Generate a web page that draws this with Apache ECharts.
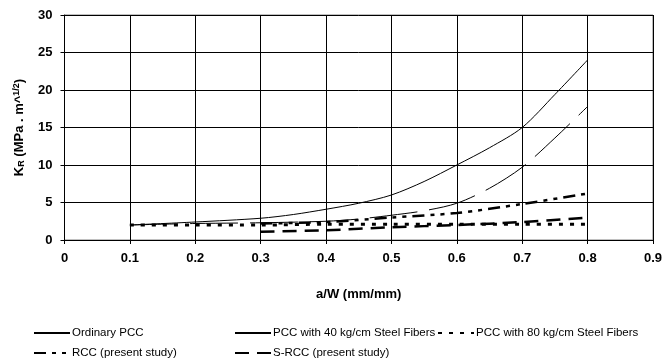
<!DOCTYPE html>
<html>
<head>
<meta charset="utf-8">
<script src="https://cdn.jsdelivr.net/npm/echarts@6/dist/echarts.min.js"></script>
<style>
  html, body { margin: 0; padding: 0; background: #fff; }
  #chart { width: 665px; height: 360px; }
</style>
</head>
<body>
<div id="chart"></div>
<script>
// data
const ordinaryX = [0.1, 0.2, 0.3, 0.35, 0.4, 0.45, 0.5, 0.55, 0.6, 0.65, 0.7, 0.75, 0.8];
const ordinaryY = [2.0, 2.4, 2.9, 3.4, 4.1, 4.9, 6.0, 7.8, 10.0, 12.3, 15.0, 19.4, 24.0];

const fib40X = [0.1, 0.2, 0.3, 0.4, 0.45, 0.5, 0.55, 0.6, 0.65, 0.7, 0.75, 0.8];
const fib40Y = [2.0, 2.2, 2.3, 2.5, 2.8, 3.3, 3.9, 4.9, 6.9, 9.7, 13.6, 17.8];

const fib80X = [0.1, 0.2, 0.3, 0.4, 0.5, 0.6, 0.7, 0.8];
const fib80Y = [2.0, 2.0, 2.0, 2.1, 2.1, 2.1, 2.1, 2.1];

const rccX = [0.3, 0.4, 0.5, 0.6, 0.7, 0.8];
const rccY = [2.2, 2.4, 3.0, 3.6, 4.8, 6.2];

const srccX = [0.3, 0.4, 0.5, 0.6, 0.7, 0.8];
const srccY = [1.1, 1.3, 1.7, 2.0, 2.4, 3.0];

const xTicks = [0, 0.1, 0.2, 0.3, 0.4, 0.5, 0.6, 0.7, 0.8, 0.9];
const yTicks = [0, 5, 10, 15, 20, 25, 30];

const names = [
  "Ordinary PCC",
  "PCC with 40 kg/cm Steel Fibers",
  "PCC with 80 kg/cm Steel Fibers",
  "RCC (present study)",
  "S-RCC (present study)"
];

function pairs(xs, ys) {
  return xs.map((x, i) => [x, ys[i]]);
}

const chart = echarts.init(document.getElementById("chart"));

const font = "Arial, Liberation Sans";
function legendAt(name, left, top) {
  return {
    data: [name],
    left: left,
    top: top,
    itemWidth: 36,
    itemHeight: 8,
    itemGap: 0,
    padding: 0,
    selectedMode: false,
    itemStyle: { opacity: 0 },
    textStyle: { fontFamily: font, fontSize: 11.5, color: "#000", padding: [0, 0, 0, -3] }
  };
}

const option = {
  animation: false,
  backgroundColor: "#fff",
  grid: {
    left: 64.5,
    right: 10,
    top: 15,
    bottom: 120,
    show: true,
    borderColor: "#808080",
    borderWidth: 1
  },
  xAxis: {
    type: "value",
    min: 0,
    max: 0.9,
    interval: 0.1,
    name: "a/W (mm/mm)",
    nameLocation: "middle",
    nameGap: 48,
    nameTextStyle: { fontFamily: font, fontSize: 13, fontWeight: "bold", color: "#000" },
    axisLine: { lineStyle: { color: "#000", width: 1 } },
    axisTick: { show: true, length: 4, lineStyle: { color: "#000" } },
    axisLabel: {
      margin: 12,
      fontFamily: font,
      fontSize: 13,
      fontWeight: "bold",
      color: "#000",
      formatter: v => String(xTicks[Math.round(v * 10)])
    },
    splitLine: { show: true, lineStyle: { color: "#000", width: 1 } }
  },
  yAxis: {
    type: "value",
    min: 0,
    max: 30,
    interval: 5,
    name: "{b|K}{s|R}{b| (MPa . m^}{p|1/2}{b|)}",
    nameLocation: "middle",
    nameGap: 38,
    nameTextStyle: {
      rich: {
        b: { fontFamily: font, fontSize: 13, fontWeight: "bold", color: "#000" },
        s: { fontFamily: font, fontSize: 9, fontWeight: "bold", color: "#000", verticalAlign: "bottom", padding: [5, 0, 0, 0] },
        p: { fontFamily: font, fontSize: 9, fontWeight: "bold", color: "#000", verticalAlign: "top", padding: [0, 0, 5, 0] }
      }
    },
    axisLine: { show: true, lineStyle: { color: "#000", width: 1 } },
    axisTick: { show: true, length: 4, lineStyle: { color: "#000" } },
    axisLabel: {
      margin: 12,
      fontFamily: font,
      fontSize: 13,
      fontWeight: "bold",
      color: "#000",
      formatter: v => String(yTicks[Math.round(v / 5)])
    },
    splitLine: { show: true, lineStyle: { color: "#000", width: 1 } }
  },
  legend: [
    legendAt(names[0], 33, 327),
    legendAt(names[1], 234, 327),
    legendAt(names[2], 437, 327),
    legendAt(names[3], 33, 347),
    legendAt(names[4], 234, 347)
  ],
  series: [
    {
      name: names[0],
      type: "line",
      symbol: "none",
      smooth: 0.3,
      data: pairs(ordinaryX, ordinaryY),
      lineStyle: { color: "#000", width: 1 },
      itemStyle: { color: "#000" }
    },
    {
      name: names[1],
      type: "line",
      symbol: "none",
      smooth: 0.3,
      data: pairs(fib40X, fib40Y),
      lineStyle: { color: "#000", width: 1, type: [48, 12] },
      itemStyle: { color: "#000" }
    },
    {
      name: names[2],
      type: "line",
      symbol: "none",
      smooth: 0.3,
      data: pairs(fib80X, fib80Y),
      lineStyle: { color: "#000", width: 3, type: [4, 7], cap: "butt" },
      itemStyle: { color: "#000" }
    },
    {
      name: names[3],
      type: "line",
      symbol: "none",
      smooth: 0.3,
      data: pairs(rccX, rccY),
      lineStyle: { color: "#000", width: 2.5, type: [12, 6, 4, 6, 4, 6], cap: "butt" },
      itemStyle: { color: "#000" }
    },
    {
      name: names[4],
      type: "line",
      symbol: "none",
      smooth: 0.3,
      data: pairs(srccX, srccY),
      lineStyle: { color: "#000", width: 2.5, type: [14, 8], cap: "butt" },
      itemStyle: { color: "#000" }
    }
  ]
};

chart.setOption(option);
</script>
</body>
</html>
